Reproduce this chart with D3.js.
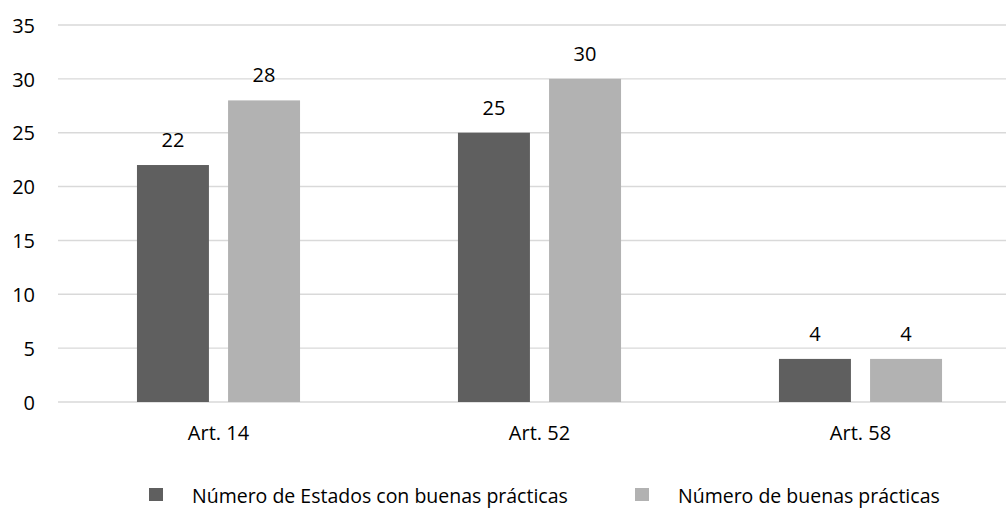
<!DOCTYPE html>
<html>
<head>
<meta charset="utf-8">
<script src="https://cdn.jsdelivr.net/npm/d3@7"></script>
<style>
  html, body { margin: 0; padding: 0; background: #fff; overflow: hidden; }
  text { font-family: "Open Sans", sans-serif; fill: #000; }
</style>
</head>
<body>
<svg id="chart" width="1006" height="508"></svg>
<script>
const categories = ["Art. 14", "Art. 52", "Art. 58"];
const seriesNames = ["Número de Estados con buenas prácticas", "Número de buenas prácticas"];
const estadosValues = [22, 25, 4];
const practicasValues = [28, 30, 4];
const yTicks = [0, 5, 10, 15, 20, 25, 30, 35];
const colors = ["#5f5f5f", "#b2b2b2"];

const svg = d3.select("#chart");
const x0 = d3.scaleBand().domain(categories).range([58, 1021]).padding(0);
const bw = x0.bandwidth();
const x1 = d3.scaleBand().domain(seriesNames).range([bw * 0.246, bw * 0.754]).paddingInner(0.21);
const y = d3.scaleLinear().domain([0, 35]).range([402, 25]);

// gridlines
const yAxis = d3.axisLeft(y).tickValues(yTicks).tickSize(0).tickPadding(0);
const gy = svg.append("g");
gy.selectAll("line.grid").data(yTicks).enter().append("line")
  .attr("x1", 58).attr("x2", 1021)
  .attr("y1", d => y(d)).attr("y2", d => y(d))
  .attr("stroke", "#d9d9d9").attr("stroke-width", 1.4);

// y axis labels
const ya = svg.append("g").attr("transform", "translate(35,0)").call(yAxis);
ya.select(".domain").remove();
ya.selectAll("text").attr("font-size", 20).attr("font-family", "Open Sans")
  .attr("dy", "0.36em").attr("fill", "#000");

// bars
const data = categories.map((c, i) => ({ cat: c, vals: [estadosValues[i], practicasValues[i]] }));
const groups = svg.selectAll("g.cat").data(data).enter().append("g")
  .attr("transform", d => `translate(${x0(d.cat)},0)`);
groups.selectAll("rect").data(d => d.vals.map((v, j) => ({ s: seriesNames[j], v, j })))
  .enter().append("rect")
  .attr("x", d => x1(d.s)).attr("width", x1.bandwidth())
  .attr("y", d => y(d.v)).attr("height", d => y(0) - y(d.v))
  .attr("fill", d => colors[d.j]);
groups.selectAll("text.lbl").data(d => d.vals.map((v, j) => ({ s: seriesNames[j], v, j })))
  .enter().append("text")
  .attr("x", d => x1(d.s) + x1.bandwidth() / 2)
  .attr("y", d => y(d.v) - 18)
  .attr("text-anchor", "middle").attr("font-size", 20)
  .text(d => d.v);

// x axis labels
const xAxis = d3.axisBottom(x0).tickSize(0).tickPadding(0);
const xa = svg.append("g").attr("transform", "translate(0,440)").call(xAxis);
xa.select(".domain").remove();
xa.selectAll("text").attr("font-size", 20).attr("font-family", "Open Sans")
  .attr("dy", 0).attr("y", 0).attr("fill", "#000");

// legend
const legX = [149, 635];
const leg = svg.selectAll("g.leg").data(seriesNames).enter().append("g")
  .attr("transform", (d, i) => `translate(${legX[i]},488)`);
leg.append("rect").attr("width", 14).attr("height", 13).attr("fill", (d, i) => colors[i]);
leg.append("text").attr("x", 43).attr("y", 15).attr("font-size", 19.5).text(d => d);
</script>
</body>
</html>
